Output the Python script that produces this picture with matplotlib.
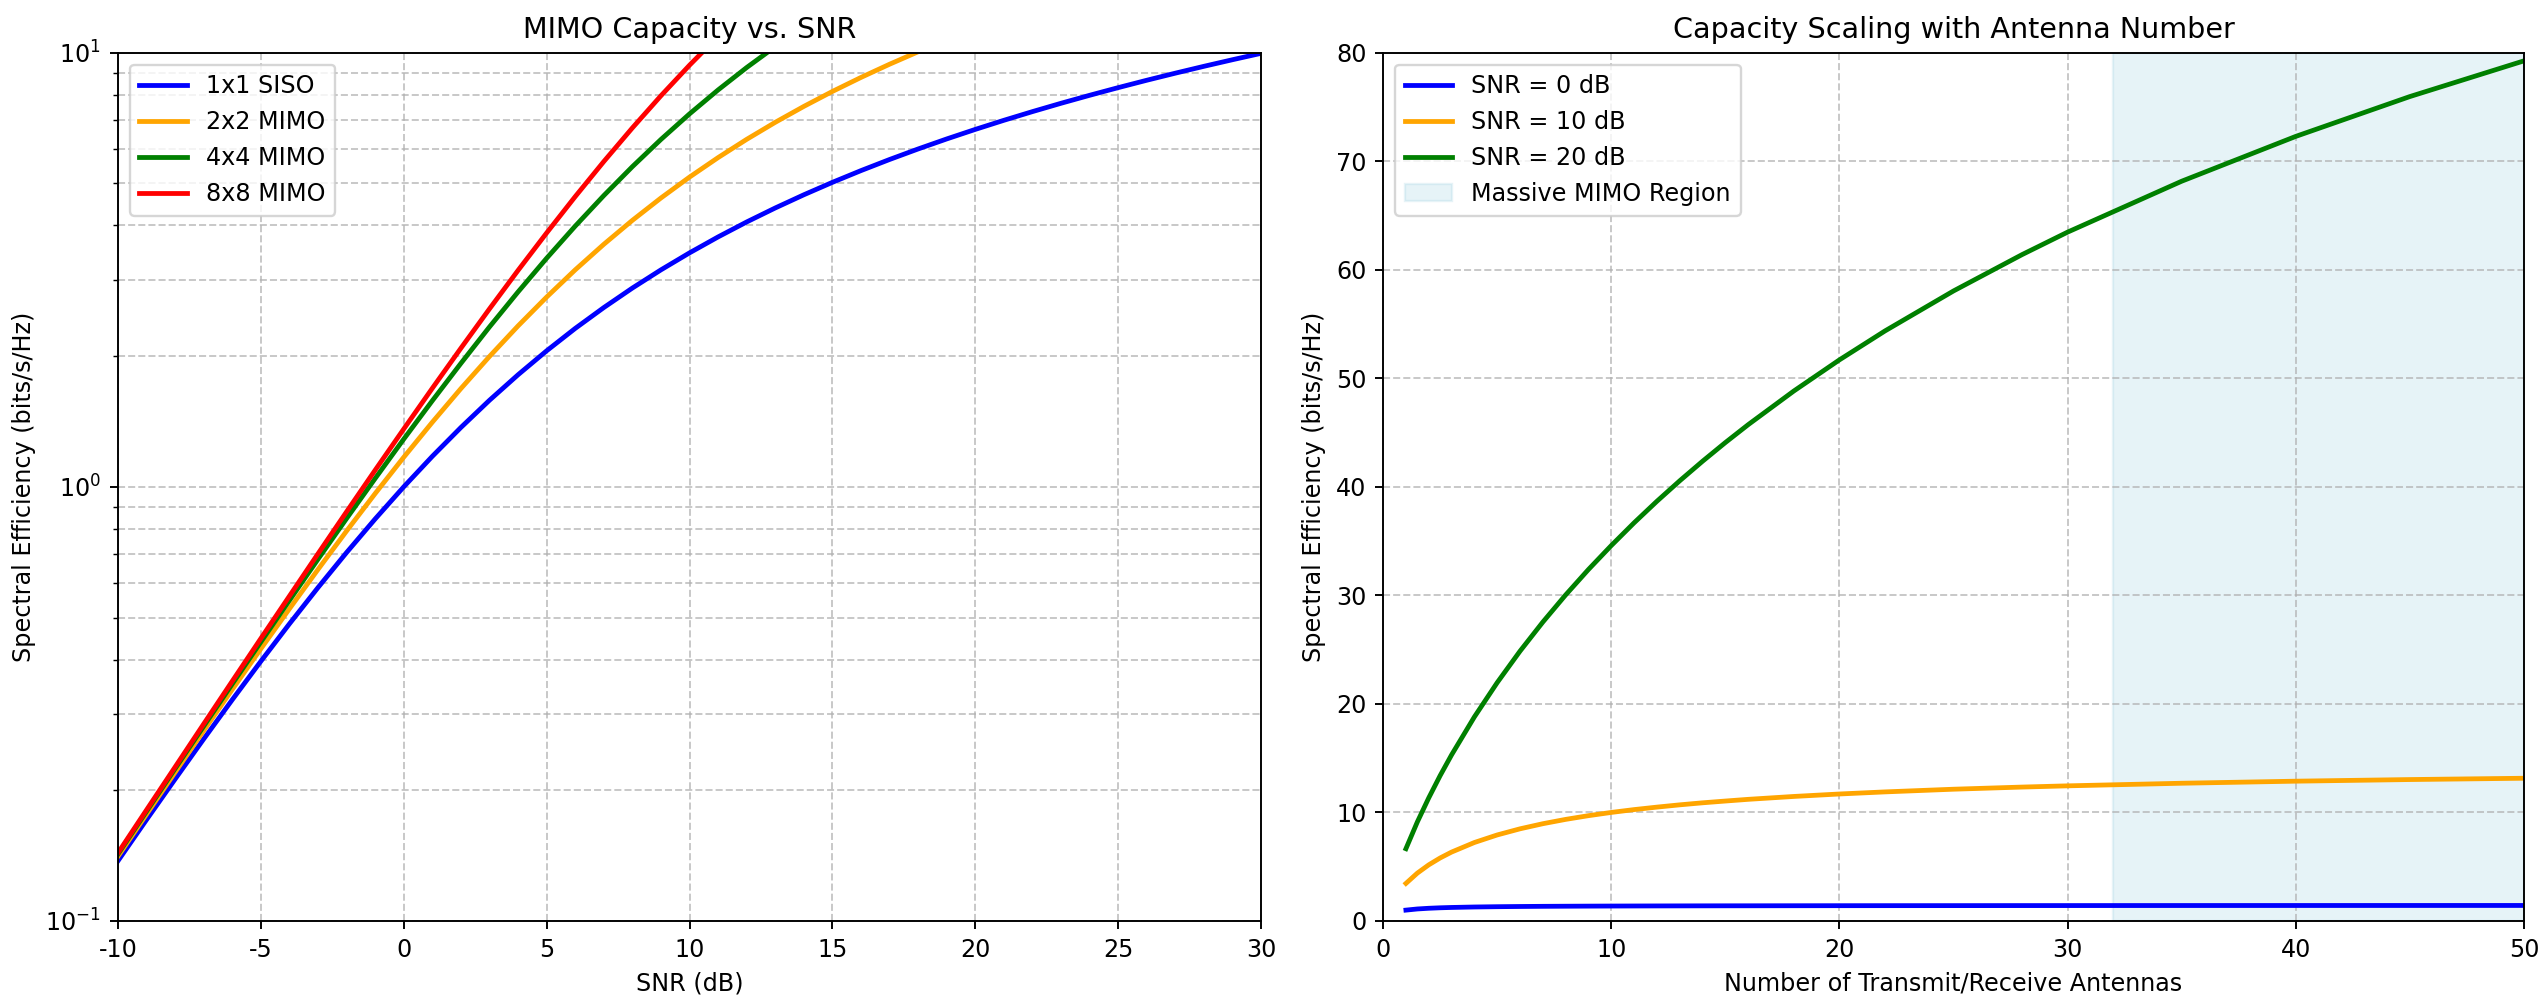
import matplotlib.pyplot as plt

# left panel: spectral efficiency vs SNR
snr_db = list(range(-10, 31))
siso_1x1 = [0.1375, 0.1711, 0.2122, 0.2625, 0.3233, 0.3964, 0.4835, 0.5861, 0.7058, 0.8434,
            1.000, 1.1756, 1.370, 1.5827, 1.812, 2.0574, 2.317, 2.5878, 2.870, 3.1608,
            3.459, 3.7643, 4.075, 4.3891, 4.707, 5.0278, 5.351, 5.6758, 6.002, 6.3297,
            6.658, 6.9874, 7.317, 7.6477, 7.978, 8.3093, 8.641, 8.9720, 9.304, 9.6353, 9.967]
mimo_2x2 = [0.1408, 0.1761, 0.2200, 0.2744, 0.3414, 0.4235, 0.5237, 0.6452, 0.7912, 0.9650,
            1.170, 1.4087, 1.684, 1.9966, 2.348, 2.7360, 3.161, 3.6196, 4.110, 4.6275,
            5.170, 5.7336, 6.316, 6.9127, 7.522, 8.1427, 8.771, 9.4074, 10.05, 10.695]
mimo_4x4 = [0.1425, 0.1788, 0.2243, 0.2809, 0.3515, 0.4391, 0.5475, 0.6812, 0.8453, 1.0454,
            1.288, 1.5789, 1.925, 2.3353, 2.812, 3.3617, 3.986, 4.6873, 5.464, 6.3125,
            7.229, 8.2086, 9.244, 10.329]
mimo_8x8 = [0.1434, 0.1802, 0.2263, 0.2843, 0.3568, 0.4474, 0.5602, 0.7013, 0.8763, 1.0926,
            1.359, 1.6867, 2.086, 2.5700, 3.152, 3.8445, 4.662, 5.6140, 6.711, 7.9590,
            9.359, 10.910]
left_series = [('1x1 SISO', siso_1x1, 'blue'), ('2x2 MIMO', mimo_2x2, 'orange'),
               ('4x4 MIMO', mimo_4x4, 'green'), ('8x8 MIMO', mimo_8x8, 'red')]
snr_ticks = [-10, -5, 0, 5, 10, 15, 20, 25, 30]

# right panel: capacity vs antenna count
antennas = [1, 1.5, 2, 2.5, 3, 4, 5, 6, 7, 8, 9, 10, 11, 12, 13, 14, 15, 16, 18, 20,
            22, 25, 28, 30, 35, 40, 45, 50]
cap_0db = [1.000, 1.106, 1.170, 1.214, 1.245, 1.288, 1.315, 1.334, 1.349, 1.359, 1.368,
           1.375, 1.381, 1.386, 1.390, 1.394, 1.397, 1.399, 1.404, 1.408,
           1.411, 1.414, 1.418, 1.419, 1.423, 1.425, 1.427, 1.429]
cap_10db = [3.459, 4.408, 5.170, 5.805, 6.347, 7.229, 7.925, 8.490, 8.961, 9.359, 9.702,
            10.00, 10.262, 10.49, 10.700, 10.887, 11.05, 11.207, 11.473, 11.70,
            11.893, 12.14, 12.337, 12.45, 12.69, 12.88, 13.03, 13.15]
cap_20db = [6.658, 9.121, 11.34, 13.394, 15.30, 18.80, 21.96, 24.86, 27.539, 30.04, 32.385,
            34.59, 36.685, 38.67, 40.556, 42.357, 44.08, 45.728, 48.829, 51.70,
            54.370, 58.05, 61.393, 63.47, 68.16, 72.29, 75.96, 79.25]
right_series = [('SNR = 0 dB', cap_0db, 'blue'), ('SNR = 10 dB', cap_10db, 'orange'),
                ('SNR = 20 dB', cap_20db, 'green')]
massive_start, massive_end = 32, 50

DPI = 172
fig = plt.figure(figsize=(2542 / DPI, 1004 / DPI), dpi=DPI)
ax1 = fig.add_axes([0.0464, 0.0827, 0.4497, 0.8648])
ax2 = fig.add_axes([0.5441, 0.0827, 0.4488, 0.8648])

for label, vals, color in left_series:
    ax1.semilogy(snr_db[:len(vals)], vals, color=color, lw=2, label=label)
ax1.set_xlim(-10, 30)
ax1.set_ylim(0.1, 10)
ax1.set_xticks(snr_ticks, [str(t) for t in snr_ticks])
ax1.grid(True, which='both', ls='--', alpha=0.7)
ax1.set_xlabel('SNR (dB)')
ax1.set_ylabel('Spectral Efficiency (bits/s/Hz)')
ax1.set_title('MIMO Capacity vs. SNR')
ax1.legend(loc='upper left')

for label, vals, color in right_series:
    ax2.plot(antennas, vals, color=color, lw=2, label=label)
ax2.axvspan(massive_start, massive_end, color='lightblue', alpha=0.3, label='Massive MIMO Region')
ax2.set_xlim(0, 50)
ax2.set_ylim(0, 80)
ax2.grid(True, ls='--', alpha=0.7)
ax2.set_xlabel('Number of Transmit/Receive Antennas')
ax2.set_ylabel('Spectral Efficiency (bits/s/Hz)')
ax2.set_title('Capacity Scaling with Antenna Number')
ax2.legend(loc='upper left')

fig.savefig('out.png', dpi=DPI)
